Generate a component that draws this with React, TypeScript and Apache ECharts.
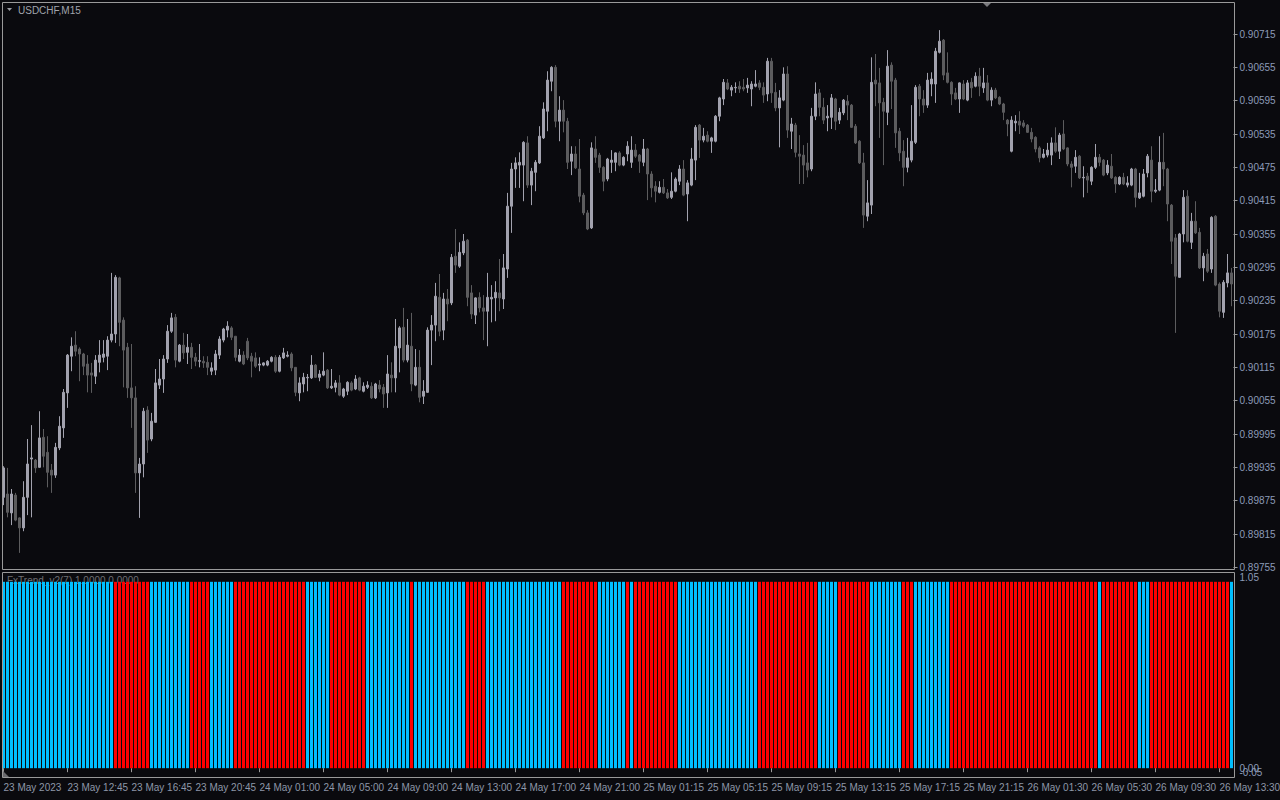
import React, { useEffect, useRef } from 'react';
import * as echarts from 'echarts';

const symbolTitle = 'USDCHF,M15';
const indicatorTitle = 'FxTrend_v2(7) 1.0000 0.0000';

const opens = [
  0.89881,0.89887,0.89853,0.89885,0.89844,0.89826,0.89881,0.89950,0.89948,0.89935,
  0.89989,0.89962,0.89930,0.89921,0.89970,0.90006,0.90069,0.90135,0.90155,0.90148,
  0.90139,0.90121,0.90105,0.90099,0.90124,0.90133,0.90135,0.90164,0.90175,0.90276,
  0.90200,0.90151,0.90078,0.90060,0.89925,0.89941,0.90038,0.89986,0.90016,0.90083,
  0.90094,0.90130,0.90180,0.90205,0.90126,0.90155,0.90142,0.90151,0.90133,0.90126,
  0.90126,0.90124,0.90108,0.90110,0.90137,0.90164,0.90182,0.90186,0.90171,0.90126,
  0.90137,0.90162,0.90135,0.90132,0.90119,0.90119,0.90119,0.90126,0.90133,0.90108,
  0.90132,0.90135,0.90139,0.90115,0.90069,0.90085,0.90096,0.90096,0.90119,0.90097,
  0.90101,0.90110,0.90078,0.90079,0.90087,0.90063,0.90072,0.90087,0.90076,0.90096,
  0.90072,0.90079,0.90081,0.90060,0.90083,0.90079,0.90069,0.90101,0.90096,0.90150,
  0.90187,0.90128,0.90153,0.90083,0.90115,0.90063,0.90070,0.90182,0.90191,0.90241,
  0.90182,0.90238,0.90231,0.90315,0.90297,0.90321,0.90344,0.90249,0.90209,0.90241,
  0.90222,0.90216,0.90238,0.90240,0.90249,0.90238,0.90292,0.90405,0.90472,0.90479,
  0.90479,0.90519,0.90443,0.90466,0.90483,0.90528,0.90576,0.90630,0.90655,0.90558,
  0.90578,0.90558,0.90486,0.90499,0.90472,0.90425,0.90393,0.90366,0.90508,0.90497,
  0.90475,0.90454,0.90484,0.90484,0.90501,0.90479,0.90499,0.90484,0.90506,0.90497,
  0.90484,0.90508,0.90463,0.90441,0.90430,0.90439,0.90429,0.90421,0.90432,0.90450,
  0.90472,0.90427,0.90443,0.90488,0.90551,0.90524,0.90533,0.90522,0.90522,0.90567,
  0.90598,0.90627,0.90614,0.90618,0.90621,0.90619,0.90618,0.90616,0.90621,0.90627,
  0.90619,0.90607,0.90666,0.90610,0.90582,0.90596,0.90643,0.90540,0.90551,0.90499,
  0.90497,0.90483,0.90472,0.90567,0.90609,0.90583,0.90564,0.90565,0.90598,0.90560,
  0.90573,0.90594,0.90587,0.90549,0.90522,0.90483,0.90387,0.90407,0.90632,0.90627,
  0.90592,0.90574,0.90659,0.90632,0.90540,0.90504,0.90475,0.90488,0.90520,0.90621,
  0.90598,0.90587,0.90625,0.90625,0.90682,0.90704,0.90645,0.90628,0.90609,0.90598,
  0.90625,0.90596,0.90628,0.90621,0.90639,0.90618,0.90627,0.90596,0.90614,0.90601,
  0.90589,0.90560,0.90504,0.90555,0.90558,0.90555,0.90551,0.90538,0.90529,0.90510,
  0.90493,0.90497,0.90497,0.90519,0.90504,0.90535,0.90510,0.90481,0.90477,0.90495,
  0.90456,0.90459,0.90450,0.90475,0.90493,0.90488,0.90465,0.90477,0.90457,0.90445,
  0.90457,0.90443,0.90443,0.90472,0.90420,0.90423,0.90465,0.90488,0.90432,0.90434,
  0.90484,0.90472,0.90407,0.90348,0.90277,0.90355,0.90423,0.90340,0.90378,0.90358,
  0.90294,0.90319,0.90292,0.90387,0.90265,0.90214,0.90267,0.90285,
];

const closes = [
  0.89934,0.89854,0.89887,0.89840,0.89826,0.89881,0.89941,0.89952,0.89934,0.89988,
  0.89955,0.89926,0.89921,0.89971,0.90009,0.90070,0.90137,0.90153,0.90144,0.90139,
  0.90117,0.90101,0.90101,0.90128,0.90137,0.90139,0.90164,0.90175,0.90277,0.90196,
  0.90146,0.90078,0.90060,0.89925,0.89941,0.90036,0.89984,0.90018,0.90087,0.90094,
  0.90130,0.90180,0.90204,0.90128,0.90155,0.90141,0.90151,0.90133,0.90126,0.90127,
  0.90123,0.90115,0.90114,0.90139,0.90166,0.90184,0.90189,0.90169,0.90133,0.90137,
  0.90121,0.90132,0.90126,0.90117,0.90121,0.90123,0.90126,0.90133,0.90108,0.90133,
  0.90141,0.90137,0.90114,0.90070,0.90087,0.90097,0.90097,0.90119,0.90097,0.90103,
  0.90108,0.90078,0.90081,0.90087,0.90065,0.90076,0.90088,0.90074,0.90094,0.90074,
  0.90081,0.90083,0.90060,0.90085,0.90076,0.90067,0.90103,0.90096,0.90153,0.90186,
  0.90128,0.90155,0.90085,0.90115,0.90061,0.90072,0.90182,0.90191,0.90243,0.90180,
  0.90238,0.90229,0.90313,0.90299,0.90322,0.90342,0.90241,0.90211,0.90240,0.90222,
  0.90216,0.90241,0.90241,0.90250,0.90240,0.90294,0.90405,0.90472,0.90483,0.90484,
  0.90520,0.90443,0.90468,0.90484,0.90531,0.90580,0.90632,0.90655,0.90558,0.90578,
  0.90558,0.90484,0.90499,0.90474,0.90423,0.90393,0.90364,0.90510,0.90493,0.90475,
  0.90450,0.90490,0.90488,0.90501,0.90479,0.90493,0.90513,0.90506,0.90495,0.90486,
  0.90508,0.90463,0.90438,0.90432,0.90439,0.90429,0.90420,0.90432,0.90454,0.90472,
  0.90425,0.90447,0.90490,0.90547,0.90524,0.90531,0.90522,0.90528,0.90567,0.90600,
  0.90628,0.90616,0.90619,0.90619,0.90616,0.90616,0.90623,0.90625,0.90625,0.90619,
  0.90605,0.90666,0.90609,0.90582,0.90600,0.90643,0.90542,0.90553,0.90502,0.90495,
  0.90479,0.90470,0.90567,0.90607,0.90583,0.90560,0.90567,0.90600,0.90558,0.90574,
  0.90596,0.90587,0.90547,0.90519,0.90483,0.90389,0.90411,0.90628,0.90625,0.90591,
  0.90576,0.90657,0.90630,0.90537,0.90501,0.90475,0.90492,0.90522,0.90619,0.90598,
  0.90587,0.90632,0.90634,0.90684,0.90702,0.90641,0.90628,0.90607,0.90598,0.90627,
  0.90598,0.90627,0.90618,0.90639,0.90621,0.90627,0.90596,0.90614,0.90600,0.90589,
  0.90574,0.90553,0.90560,0.90558,0.90551,0.90549,0.90538,0.90526,0.90508,0.90492,
  0.90499,0.90506,0.90519,0.90504,0.90533,0.90508,0.90481,0.90475,0.90493,0.90456,
  0.90457,0.90452,0.90475,0.90493,0.90484,0.90461,0.90479,0.90456,0.90445,0.90457,
  0.90445,0.90447,0.90472,0.90421,0.90429,0.90463,0.90495,0.90432,0.90434,0.90484,
  0.90472,0.90409,0.90342,0.90279,0.90355,0.90421,0.90342,0.90378,0.90357,0.90294,
  0.90315,0.90288,0.90385,0.90263,0.90216,0.90268,0.90285,0.90265,
];

const highs = [
  0.89937,0.89934,0.89896,0.89889,0.89845,0.89910,0.89986,0.90011,0.89950,0.90036,
  0.90004,0.89991,0.89941,0.89979,0.90027,0.90076,0.90139,0.90169,0.90180,0.90151,
  0.90141,0.90137,0.90123,0.90137,0.90164,0.90164,0.90171,0.90285,0.90281,0.90278,
  0.90205,0.90159,0.90157,0.90081,0.89952,0.90042,0.90045,0.90033,0.90112,0.90130,
  0.90137,0.90191,0.90213,0.90211,0.90157,0.90177,0.90175,0.90159,0.90141,0.90157,
  0.90135,0.90135,0.90124,0.90146,0.90171,0.90186,0.90198,0.90189,0.90171,0.90148,
  0.90144,0.90168,0.90141,0.90142,0.90133,0.90124,0.90128,0.90135,0.90137,0.90137,
  0.90150,0.90144,0.90142,0.90115,0.90097,0.90105,0.90103,0.90137,0.90121,0.90110,
  0.90142,0.90112,0.90112,0.90092,0.90101,0.90078,0.90090,0.90090,0.90101,0.90098,
  0.90088,0.90090,0.90088,0.90087,0.90092,0.90085,0.90137,0.90124,0.90202,0.90189,
  0.90222,0.90202,0.90213,0.90148,0.90146,0.90092,0.90187,0.90209,0.90267,0.90283,
  0.90249,0.90256,0.90319,0.90364,0.90340,0.90355,0.90346,0.90263,0.90241,0.90250,
  0.90245,0.90285,0.90263,0.90270,0.90310,0.90319,0.90429,0.90483,0.90493,0.90502,
  0.90522,0.90531,0.90474,0.90488,0.90549,0.90592,0.90648,0.90657,0.90659,0.90603,
  0.90596,0.90564,0.90513,0.90513,0.90526,0.90429,0.90398,0.90520,0.90531,0.90501,
  0.90477,0.90492,0.90506,0.90502,0.90504,0.90495,0.90522,0.90531,0.90517,0.90499,
  0.90526,0.90510,0.90468,0.90450,0.90450,0.90454,0.90436,0.90466,0.90457,0.90479,
  0.90488,0.90452,0.90510,0.90551,0.90553,0.90546,0.90540,0.90530,0.90569,0.90602,
  0.90634,0.90634,0.90623,0.90628,0.90630,0.90634,0.90636,0.90630,0.90650,0.90632,
  0.90628,0.90672,0.90672,0.90627,0.90614,0.90655,0.90657,0.90564,0.90555,0.90533,
  0.90515,0.90519,0.90582,0.90628,0.90616,0.90600,0.90587,0.90607,0.90600,0.90582,
  0.90598,0.90605,0.90589,0.90553,0.90524,0.90501,0.90452,0.90673,0.90679,0.90654,
  0.90600,0.90686,0.90664,0.90636,0.90546,0.90524,0.90528,0.90587,0.90623,0.90625,
  0.90614,0.90645,0.90646,0.90690,0.90722,0.90706,0.90682,0.90630,0.90618,0.90628,
  0.90632,0.90632,0.90636,0.90646,0.90654,0.90654,0.90641,0.90619,0.90618,0.90603,
  0.90591,0.90562,0.90567,0.90569,0.90576,0.90560,0.90553,0.90546,0.90531,0.90513,
  0.90508,0.90519,0.90529,0.90547,0.90537,0.90560,0.90511,0.90486,0.90506,0.90497,
  0.90477,0.90465,0.90477,0.90517,0.90499,0.90490,0.90488,0.90499,0.90459,0.90459,
  0.90465,0.90459,0.90474,0.90474,0.90465,0.90472,0.90499,0.90513,0.90454,0.90531,
  0.90537,0.90474,0.90409,0.90355,0.90357,0.90434,0.90434,0.90393,0.90414,0.90366,
  0.90321,0.90328,0.90387,0.90389,0.90268,0.90272,0.90319,0.90294,
];

const lows = [
  0.89867,0.89845,0.89831,0.89838,0.89781,0.89820,0.89849,0.89845,0.89925,0.89934,
  0.89935,0.89899,0.89889,0.89916,0.89966,0.89988,0.90042,0.90108,0.90135,0.90090,
  0.90101,0.90070,0.90069,0.90085,0.90106,0.90124,0.90110,0.90160,0.90159,0.90153,
  0.90079,0.90060,0.90006,0.89889,0.89844,0.89917,0.89961,0.89982,0.90015,0.90076,
  0.90069,0.90123,0.90177,0.90115,0.90124,0.90130,0.90121,0.90112,0.90117,0.90115,
  0.90114,0.90101,0.90101,0.90101,0.90130,0.90160,0.90169,0.90164,0.90126,0.90124,
  0.90119,0.90128,0.90097,0.90114,0.90108,0.90117,0.90117,0.90124,0.90105,0.90106,
  0.90130,0.90133,0.90108,0.90063,0.90054,0.90070,0.90072,0.90094,0.90096,0.90090,
  0.90099,0.90076,0.90076,0.90070,0.90063,0.90060,0.90065,0.90072,0.90074,0.90072,
  0.90070,0.90076,0.90058,0.90058,0.90070,0.90042,0.90042,0.90070,0.90070,0.90106,
  0.90124,0.90124,0.90072,0.90081,0.90052,0.90049,0.90069,0.90119,0.90162,0.90171,
  0.90164,0.90198,0.90227,0.90285,0.90294,0.90317,0.90225,0.90202,0.90193,0.90214,
  0.90164,0.90153,0.90196,0.90198,0.90216,0.90220,0.90276,0.90357,0.90438,0.90438,
  0.90414,0.90438,0.90407,0.90432,0.90481,0.90526,0.90540,0.90612,0.90547,0.90522,
  0.90538,0.90472,0.90461,0.90472,0.90412,0.90389,0.90362,0.90364,0.90483,0.90465,
  0.90432,0.90450,0.90465,0.90468,0.90477,0.90477,0.90486,0.90474,0.90492,0.90465,
  0.90477,0.90416,0.90421,0.90412,0.90428,0.90427,0.90418,0.90418,0.90430,0.90443,
  0.90423,0.90378,0.90441,0.90452,0.90492,0.90520,0.90520,0.90501,0.90520,0.90558,
  0.90587,0.90614,0.90603,0.90609,0.90609,0.90612,0.90609,0.90585,0.90619,0.90614,
  0.90591,0.90594,0.90591,0.90576,0.90511,0.90594,0.90528,0.90508,0.90493,0.90445,
  0.90445,0.90457,0.90468,0.90560,0.90567,0.90553,0.90540,0.90544,0.90542,0.90553,
  0.90569,0.90560,0.90546,0.90517,0.90481,0.90366,0.90378,0.90391,0.90585,0.90528,
  0.90479,0.90551,0.90580,0.90510,0.90486,0.90441,0.90466,0.90484,0.90517,0.90567,
  0.90573,0.90582,0.90603,0.90591,0.90680,0.90632,0.90626,0.90587,0.90596,0.90573,
  0.90596,0.90594,0.90600,0.90619,0.90603,0.90609,0.90594,0.90585,0.90598,0.90587,
  0.90560,0.90531,0.90502,0.90540,0.90535,0.90546,0.90537,0.90520,0.90502,0.90484,
  0.90491,0.90493,0.90479,0.90501,0.90490,0.90506,0.90477,0.90439,0.90465,0.90454,
  0.90421,0.90429,0.90443,0.90472,0.90477,0.90459,0.90461,0.90454,0.90429,0.90443,
  0.90443,0.90439,0.90441,0.90403,0.90418,0.90421,0.90457,0.90412,0.90429,0.90432,
  0.90441,0.90378,0.90301,0.90177,0.90276,0.90340,0.90340,0.90328,0.90355,0.90292,
  0.90270,0.90285,0.90285,0.90261,0.90205,0.90204,0.90259,0.90225,
];

// FxTrend state per bar: 1 = up (blue buffer), 0 = down (red buffer)
const trendUp = [
  1,1,1,1,1,1,1,1,1,1, 1,1,1,1,1,1,1,1,1,1, 1,1,1,1,1,1,1,1,0,0, 0,0,0,0,0,0,0,1,1,1,
  1,1,1,1,1,1,1,0,0,0, 0,0,1,1,1,1,1,1,0,0, 0,0,0,0,0,0,0,0,0,0, 0,0,0,0,0,0,1,1,1,1,
  1,1,0,0,0,0,0,0,0,0, 0,1,1,1,1,1,1,1,1,1, 1,1,0,1,1,1,1,1,1,1, 1,1,1,1,1,1,0,0,0,0,
  0,1,1,1,1,1,1,1,1,1, 1,1,1,1,1,1,1,1,1,1, 0,0,0,0,0,0,0,0,0,1, 1,1,1,1,1,1,0,1,0,0,
  0,0,0,0,0,0,0,0,0,1, 1,1,1,1,1,1,1,1,1,1, 1,1,1,1,1,1,1,1,1,0, 0,0,0,0,0,0,0,0,0,0,
  0,0,0,0,1,1,1,1,1,0, 0,0,0,0,0,0,0,1,1,1, 1,1,1,1,1,0,0,0,1,1, 1,1,1,1,1,1,1,0,0,0,
  0,0,0,0,0,0,0,0,0,0, 0,0,0,0,0,0,0,0,0,0, 0,0,0,0,0,0,0,0,0,0, 0,0,0,0,1,0,0,0,0,0,
  0,0,0,0,1,1,1,0,0,0, 0,0,0,0,0,0,0,0,0,0, 0,0,0,0,0,0,0,1,
];

const timeTickLabels = [
  '23 May 2023', '23 May 12:45', '23 May 16:45', '23 May 20:45', '24 May 01:00',
  '24 May 05:00', '24 May 09:00', '24 May 13:00', '24 May 17:00', '24 May 21:00',
  '25 May 01:15', '25 May 05:15', '25 May 09:15', '25 May 13:15', '25 May 17:15',
  '25 May 21:15', '26 May 01:30', '26 May 05:30', '26 May 09:30', '26 May 13:30',
];
const barsPerTimeLabel = 16;

const priceTicks = [
  0.89755, 0.89815, 0.89875, 0.89935, 0.89995, 0.90055, 0.90115, 0.90175, 0.90235,
  0.90295, 0.90355, 0.90415, 0.90475, 0.90535, 0.90595, 0.90655, 0.90715,
];
const priceMin = 0.897511;
const priceMax = 0.907717;

const indicatorMin = -0.05;
const indicatorMax = 1.05;
const indicatorTicks = [0, 1.05];
const indicatorBottomTick = [-0.05];

export default function App() {
  const ref = useRef<HTMLDivElement>(null);

  useEffect(() => {
    if (!ref.current) return;
    const chart = echarts.init(ref.current, null, { renderer: 'svg' });
    const cats = opens.map((_, i) => String(i));
    const candles = opens.map((o, i) => [o, closes[i], lows[i], highs[i]]);
    const upBars = trendUp.map((t) => (t === 1 ? 1 : '-'));
    const downBars = trendUp.map((t) => (t === 0 ? 1 : '-'));
    const font = 'Liberation Sans';
    const borderColor = '#9a9a9a';
    const axisTextColor = '#8c9bb8';

    chart.setOption({
      animation: false,
      backgroundColor: '#0a0a0e',
      textStyle: { fontFamily: font },
      grid: [
        { left: 1.5, top: 2.5, width: 1232, height: 567, containLabel: false, outerBoundsMode: 'none' },
        { left: 1.5, top: 572.5, width: 1232, height: 205, containLabel: false, outerBoundsMode: 'none' },
      ],
      xAxis: [
        {
          type: 'category',
          gridIndex: 0,
          data: cats,
          axisLine: { show: false },
          axisTick: { show: false },
          axisLabel: { show: false },
          splitLine: { show: false },
        },
        {
          type: 'category',
          gridIndex: 1,
          data: cats,
          axisLine: { show: false },
          axisTick: {
            show: true,
            interval: barsPerTimeLabel - 1,
            alignWithLabel: true,
            length: 4,
            lineStyle: { color: borderColor },
          },
          axisLabel: {
            interval: barsPerTimeLabel - 1,
            formatter: (_v: string, i: number) => timeTickLabels[i / barsPerTimeLabel] ?? '',
            align: 'left',
            margin: 5,
            color: '#8e97a8',
            fontSize: 10,
            fontFamily: font,
            hideOverlap: false,
          },
          splitLine: { show: false },
        },
      ],
      yAxis: [
        {
          type: 'value',
          gridIndex: 0,
          position: 'right',
          min: priceMin,
          max: priceMax,
          splitLine: { show: false },
          axisLine: { show: false },
          axisTick: { show: true, customValues: priceTicks, length: 4, lineStyle: { color: borderColor } },
          axisLabel: {
            customValues: priceTicks,
            formatter: (v: number) => v.toFixed(5),
            margin: 6,
            color: axisTextColor,
            fontSize: 10,
            fontFamily: font,
            showMinLabel: true,
            showMaxLabel: true,
          },
        },
        {
          type: 'value',
          gridIndex: 1,
          position: 'right',
          min: indicatorMin,
          max: indicatorMax,
          splitLine: { show: false },
          axisLine: { show: false },
          axisTick: { show: false },
          axisLabel: {
            customValues: indicatorTicks,
            formatter: (v: number) => v.toFixed(2),
            margin: 6,
            color: axisTextColor,
            fontSize: 10,
            fontFamily: font,
            showMinLabel: true,
            showMaxLabel: true,
            hideOverlap: false,
            verticalAlignMaxLabel: 'top',
          },
        },
        {
          type: 'value',
          gridIndex: 1,
          position: 'right',
          min: indicatorMin,
          max: indicatorMax,
          splitLine: { show: false },
          axisLine: { show: false },
          axisTick: { show: false },
          axisLabel: {
            customValues: indicatorBottomTick,
            formatter: (v: number) => v.toFixed(2),
            margin: 6,
            color: axisTextColor,
            fontSize: 10,
            fontFamily: font,
            showMinLabel: true,
            showMaxLabel: true,
            hideOverlap: false,
            verticalAlign: 'bottom',
            verticalAlignMinLabel: 'bottom',
            verticalAlignMaxLabel: 'bottom',
          },
        },
      ],
      series: [
        {
          type: 'candlestick',
          xAxisIndex: 0,
          yAxisIndex: 0,
          data: candles,
          barWidth: 2,
          itemStyle: {
            color: '#a2a2ae',
            color0: '#5c5c5e',
            borderColor: '#a2a2ae',
            borderColor0: '#5c5c5e',
            borderWidth: 1,
          },
        },
        {
          type: 'bar',
          xAxisIndex: 1,
          yAxisIndex: 1,
          data: upBars,
          barWidth: 3,
          barGap: '-100%',
          itemStyle: { color: '#00bfff' },
          z: 3,
        },
        {
          type: 'bar',
          xAxisIndex: 1,
          yAxisIndex: 1,
          data: downBars,
          barWidth: 3,
          barGap: '-100%',
          itemStyle: { color: '#ff0000' },
          z: 3,
        },
      ],
      graphic: [
        {
          type: 'text',
          x: 7,
          y: 580,
          z: 1,
          silent: true,
          style: { text: indicatorTitle, fill: '#6e6e72', fontSize: 10, fontFamily: font, verticalAlign: 'middle' },
        },
        {
          type: 'rect',
          z: 100,
          silent: true,
          shape: { x: 2.5, y: 2.5, width: 1232, height: 567 },
          style: { fill: 'none', stroke: borderColor, lineWidth: 1 },
        },
        {
          type: 'rect',
          z: 100,
          silent: true,
          shape: { x: 2.5, y: 572.5, width: 1232, height: 205 },
          style: { fill: 'none', stroke: borderColor, lineWidth: 1 },
        },
        {
          type: 'polygon',
          z: 100,
          silent: true,
          shape: { points: [[7, 8], [12, 8], [9.5, 11]] },
          style: { fill: '#9a9ca2' },
        },
        {
          type: 'text',
          x: 18,
          y: 10,
          z: 100,
          silent: true,
          style: { text: symbolTitle, fill: '#a0a4ac', fontSize: 10, fontFamily: font, verticalAlign: 'middle' },
        },
        {
          type: 'polygon',
          z: 100,
          silent: true,
          shape: { points: [[983, 3], [991, 3], [987, 7]] },
          style: { fill: '#7a7a7e' },
        },
        {
          type: 'polygon',
          z: 100,
          silent: true,
          shape: { points: [[3, 771], [3, 777], [9, 777]] },
          style: { fill: '#6a6a6e' },
        },
      ],
    });
    return () => chart.dispose();
  }, []);

  return (
    <div
      ref={ref}
      style={{ position: 'fixed', left: 0, top: 0, width: 1280, height: 800, background: '#0a0a0e' }}
    />
  );
}
